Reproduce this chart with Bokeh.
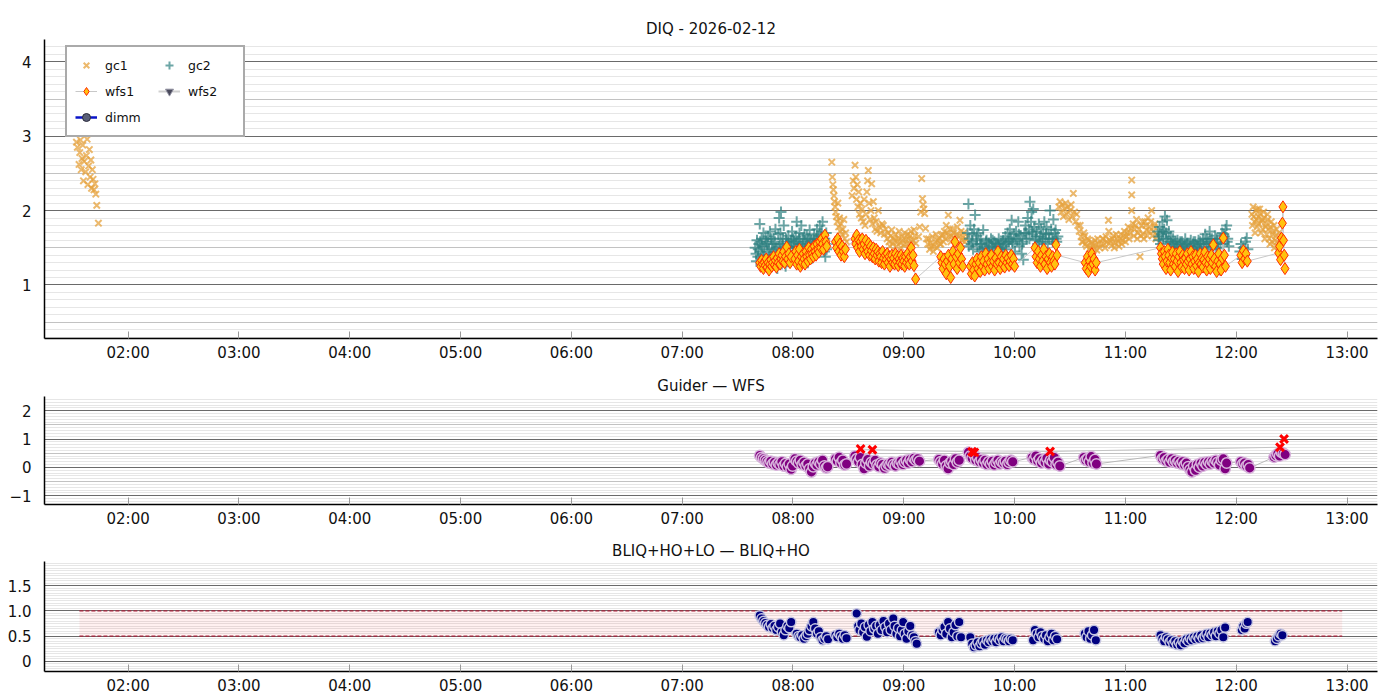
from datetime import datetime
from bokeh.plotting import figure
from bokeh.layouts import column
from bokeh.models import (Range1d, DatetimeTickFormatter, FixedTicker,
                          SingleIntervalTicker, Grid, Legend, LegendItem)
from bokeh.embed import file_html
from bokeh.resources import INLINE

TITLE_TOP = "DIQ - 2026-02-12"
TITLE_MID = "Guider \u2014 WFS"
TITLE_BOT = "BLIQ+HO+LO \u2014 BLIQ+HO"
DAY = datetime(2026, 2, 12)

# ---------------- data (minutes after 00:00, values) ----------------
gc1_t = [92.0, 92.5, 93.0, 93.4, 93.8, 94.2, 94.6, 95.0, 95.4, 95.8, 96.2, 96.6, 97.0, 97.4, 97.8, 98.2, 98.6, 99.0, 99.4, 99.8, 100.2, 100.6, 101.0, 101.5, 102.0, 102.5, 103.0, 103.9,
         501.0, 501.3, 501.6, 501.9, 502.2, 502.5, 502.8, 503.1, 503.5, 503.9, 504.3, 504.7, 505.2, 505.6, 506.0, 506.5, 507.0, 507.5, 508.0, 508.5, 509.0,
         512.0, 512.6, 513.0, 513.6, 514.0, 514.4, 514.8, 515.2, 515.6, 516.0, 516.5, 517.0, 517.5, 518.0, 518.5, 519.0, 519.5, 520.0, 520.4, 520.8, 521.2, 521.7, 522.2, 522.6, 523.0, 523.5, 524.0, 524.5, 525.0, 525.5, 526.2, 526.8, 527.5, 528.2, 528.9, 529.5, 530.2,
         531.0, 532.0, 533.0, 534.0, 535.0, 536.0, 537.0, 538.0, 539.0, 540.0, 541.0, 542.0, 543.0, 544.0, 545.0, 546.0,
         531.5, 532.5, 533.5, 534.5, 535.5, 536.5, 537.5, 538.5, 539.5, 540.5, 541.5, 542.5, 543.5, 544.5, 545.5, 546.5,
         548.0, 548.6, 549.2, 549.7, 550.1, 550.5, 550.9, 551.3, 551.8, 552.3,
         553.0, 554.0, 555.0, 556.0, 557.0, 558.0, 559.0, 560.0, 561.0, 562.0, 563.0, 564.1, 565.0, 566.0, 567.0, 568.0, 569.0, 570.4, 571.0, 572.0, 573.0,
         553.5, 554.5, 555.5, 556.5, 557.5, 558.5, 559.5, 560.5, 561.5, 562.5, 563.5, 564.5, 565.5, 566.5, 567.5, 568.5, 569.5, 570.0, 571.5, 572.5, 573.5,
         624.0, 624.6, 625.2, 625.8, 626.4, 627.0, 627.6, 628.2, 628.8, 629.4, 630.0, 630.6, 631.2, 631.8, 632.4, 633.0, 633.6, 634.2,
         635.0, 636.0, 637.0, 638.0, 639.0, 640.0, 641.0, 642.0, 643.0, 644.0, 645.0, 646.0,
         635.5, 636.5, 637.5, 638.5, 639.5, 640.5, 641.5, 642.5, 643.5, 644.5, 645.5,
         647.0, 648.0, 649.0, 650.0, 650.8, 651.5, 652.5, 653.5, 654.5, 655.5, 656.5, 657.5, 658.5, 659.5, 660.5, 661.5, 662.5, 663.4, 663.4, 663.4, 664.2, 665.0, 666.0, 666.8, 667.9, 668.8, 669.6, 670.5, 671.4, 672.3, 673.2, 674.2, 675.0, 676.0, 677.0,
         647.5, 648.5, 649.5, 651.0, 652.0, 653.0, 654.0, 655.0, 656.0, 657.0, 658.0, 659.0, 660.0, 661.0, 662.0, 663.0, 664.6, 665.5, 666.4, 667.4, 668.3, 669.2, 670.0, 671.0, 671.8, 672.8, 673.7, 674.6, 675.5, 676.5,
         728.5, 729.2, 729.9, 730.6, 731.3, 732.0, 732.7, 733.4, 734.1, 734.8, 735.5, 736.2, 736.9, 737.6, 738.3, 739.0, 739.7, 740.4, 741.1, 741.8, 742.5, 743.2, 744.0,
         728.8, 729.5, 730.2, 730.9, 731.6, 732.3, 733.0, 733.7, 734.4, 735.1, 735.8, 736.5, 737.2, 737.9, 738.6, 739.3, 740.0, 740.7, 741.4, 742.1]
gc1_v = [2.92, 2.85, 3.05, 2.62, 2.78, 2.95, 2.55, 2.70, 2.88, 2.40, 2.66, 3.10, 2.52, 2.74, 2.96, 2.35, 2.60, 2.82, 2.45, 2.68, 2.30, 2.55, 2.42, 2.28, 2.36, 2.22, 2.07, 1.83,
         2.65, 2.45, 2.35, 2.28, 2.20, 2.12, 2.05, 1.98, 1.92, 1.85, 2.10, 1.78, 1.90, 1.72, 1.82, 1.68, 1.75, 1.88, 1.62, 1.70, 1.58,
         2.20, 2.40, 2.30, 2.61, 2.45, 2.15, 2.35, 2.05, 2.25, 1.95, 2.10, 1.90, 2.02, 1.85, 2.15, 1.80, 1.95, 2.25, 2.40, 2.54, 2.10, 1.88, 2.00, 2.36, 1.82, 2.12, 1.90, 1.75, 1.85, 1.72, 2.00, 1.78, 1.70, 1.82, 1.80, 1.68, 1.75,
         1.62, 1.58, 1.66, 1.55, 1.60, 1.52, 1.63, 1.57, 1.65, 1.54, 1.61, 1.68, 1.56, 1.72, 1.60, 1.66,
         1.70, 1.52, 1.74, 1.62, 1.68, 1.58, 1.72, 1.50, 1.60, 1.70, 1.55, 1.62, 1.66, 1.58, 1.74, 1.56,
         1.65, 1.78, 1.98, 2.43, 2.16, 2.08, 2.02, 1.96, 1.76, 1.62,
         1.55, 1.48, 1.52, 1.45, 1.58, 1.50, 1.62, 1.55, 1.68, 1.72, 1.80, 1.94, 1.75, 1.66, 1.70, 1.60, 1.78, 1.87, 1.72, 1.64, 1.58,
         1.62, 1.56, 1.65, 1.52, 1.68, 1.60, 1.55, 1.66, 1.58, 1.62, 1.70, 1.65, 1.58, 1.75, 1.62, 1.68, 1.55, 1.66, 1.60, 1.70, 1.62,
         2.05, 2.12, 1.98, 2.08, 1.92, 2.02, 2.10, 1.95, 2.05, 1.88, 2.00, 2.08, 1.92, 2.23, 1.98, 1.85, 1.95, 1.80,
         1.72, 1.65, 1.58, 1.66, 1.52, 1.60, 1.50, 1.56, 1.48, 1.54, 1.62, 1.50,
         1.80, 1.58, 1.70, 1.55, 1.62, 1.48, 1.58, 1.52, 1.60, 1.47, 1.55,
         1.55, 1.62, 1.50, 1.58, 1.87, 1.60, 1.53, 1.66, 1.56, 1.62, 1.52, 1.68, 1.60, 1.72, 1.65, 1.78, 1.70, 2.00, 2.21, 2.41, 1.82, 1.75, 1.88, 1.70, 1.38, 1.80, 1.68, 1.85, 1.74, 1.90, 1.78, 2.00, 1.72, 1.82, 1.68,
         1.62, 1.55, 1.65, 1.72, 1.58, 1.62, 1.50, 1.68, 1.58, 1.62, 1.55, 1.66, 1.58, 1.70, 1.62, 1.76, 1.66, 1.80, 1.62, 1.75, 1.66, 1.85, 1.62, 1.80, 1.66, 1.72, 1.85, 1.66, 1.78, 1.62,
         1.95, 2.05, 1.85, 2.00, 1.78, 1.92, 2.02, 1.70, 1.88, 1.98, 1.62, 1.82, 1.95, 1.75, 1.55, 1.85, 1.68, 1.80, 1.60, 1.75, 1.52, 1.70, 1.62,
         1.80, 1.92, 1.70, 1.88, 2.02, 1.82, 1.96, 1.85, 1.75, 1.90, 1.78, 1.68, 1.88, 1.62, 1.78, 1.58, 1.72, 1.50, 1.66, 1.58]

gc2_t = [459.5, 460.0, 460.5, 461.0, 461.5, 462.0, 462.5, 463.0, 463.5, 464.0, 464.5, 465.0, 465.5, 466.0, 466.5, 467.0, 467.5, 468.0, 468.5, 469.0, 469.5, 470.0, 470.5, 471.0, 471.5, 472.0, 472.5, 473.0, 473.5, 474.0, 474.5, 475.0, 475.5, 476.0, 476.5, 477.0, 477.5, 478.0, 478.5, 479.0, 479.5, 480.0, 480.5, 481.0, 481.5, 482.0, 482.5, 483.0, 483.5, 484.0, 484.5, 485.0, 485.5, 486.0, 486.5, 487.0, 487.5, 488.0, 488.5, 489.0, 489.5, 490.0, 490.5, 491.0, 491.5, 492.0, 492.5, 493.0, 493.5, 494.0, 494.5, 495.0, 495.5, 496.0, 496.5, 497.0, 497.5, 498.0, 498.5,
         460.2, 461.2, 462.2, 463.2, 464.2, 465.2, 466.2, 467.2, 468.2, 469.2, 470.2, 471.2, 472.2, 473.2, 474.2, 475.2, 476.2, 477.2, 478.2, 479.2, 480.2, 481.2, 482.2, 483.2, 484.2, 485.2, 486.2, 487.2, 488.2, 489.2, 490.2, 491.2, 492.2, 493.2, 494.2, 495.2, 496.2, 497.2, 498.2,
         574.5, 575.0, 575.5, 576.0, 576.5, 577.0, 577.5, 578.0, 578.6, 579.2, 579.8, 580.4, 581.0, 581.6, 582.2, 583.0, 583.6, 584.2, 584.8, 585.4, 586.0, 586.6, 587.2, 587.8, 588.4, 589.0, 589.6, 590.2, 590.8, 591.4, 592.0, 592.6, 593.2, 593.8, 594.4, 595.0, 595.6, 596.2, 596.8, 597.4, 598.0, 598.4, 599.0, 599.6, 600.2, 600.8, 601.4, 602.0, 602.6, 603.2, 603.8, 604.4, 604.7, 605.3, 605.9, 606.5, 607.1, 607.7, 608.3, 608.9, 609.2, 609.8, 610.1, 610.7, 611.3, 611.9, 612.5, 613.1, 613.7, 614.3, 614.9, 615.5, 616.1, 616.7, 617.3, 617.9, 618.5, 619.2, 619.8, 620.4, 621.0, 621.6, 622.2, 622.8, 623.4,
         575.2, 577.2, 579.5, 581.3, 582.6, 584.5, 586.3, 588.1, 589.9, 591.7, 593.5, 595.3, 597.1, 598.7, 600.5, 602.3, 604.1, 606.2, 608.0, 609.5, 611.6, 613.4, 615.2, 617.0, 618.8, 620.7, 622.5,
         677.5, 678.0, 678.5, 679.0, 679.5, 680.0, 680.5, 681.0, 681.4, 682.0, 682.5, 683.0, 683.5, 684.0, 684.6, 685.2, 685.8, 686.4, 687.0, 687.6, 688.2, 688.8, 689.4, 690.0, 690.6, 691.2, 691.8, 692.4, 693.0, 693.6, 694.2, 694.8, 695.4, 696.0, 696.6, 697.2, 697.8, 698.4, 699.0, 699.6, 700.2, 700.8, 701.4, 702.0, 702.6, 703.2, 703.8, 704.4, 705.0, 705.6, 706.2, 706.8, 707.4, 708.0, 708.6, 709.2, 709.8, 710.4, 711.2, 711.8, 712.4, 713.0, 713.6, 714.2, 714.8, 715.4, 716.0,
         678.2, 680.2, 682.2, 684.3, 686.1, 687.9, 689.7, 691.5, 693.3, 695.1, 696.9, 698.7, 700.5, 702.3, 704.1, 705.9, 707.7, 709.5, 711.5, 713.3, 715.1,
         722.0, 722.6, 723.2, 723.8, 724.4, 725.0, 725.7, 726.3]
gc2_v = [1.50, 1.42, 1.60, 1.38, 1.55, 1.82, 1.45, 1.62, 1.40, 1.70, 1.52, 1.35, 1.58, 1.44, 1.65, 1.48, 1.72, 1.40, 1.55, 1.30, 1.62, 1.45, 1.75, 1.50, 1.22, 1.68, 1.90, 1.55, 1.98, 1.42, 1.62, 1.80, 1.48, 1.25, 1.58, 1.40, 1.66, 1.52, 1.35, 1.60, 1.72, 1.45, 1.58, 1.38, 1.65, 1.85, 1.50, 1.42, 1.70, 1.55, 1.80, 1.48, 1.62, 1.35, 1.58, 1.45, 1.66, 1.30, 1.52, 1.74, 1.44, 1.60, 1.38, 1.55, 1.68, 1.47, 1.62, 1.75, 1.52, 1.66, 1.80, 1.58, 1.72, 1.85, 1.62, 1.45, 1.38, 1.70, 1.55,
         1.32, 1.48, 1.58, 1.52, 1.38, 1.62, 1.55, 1.35, 1.62, 1.48, 1.58, 1.40, 1.52, 1.70, 1.55, 1.35, 1.62, 1.52, 1.45, 1.55, 1.62, 1.50, 1.58, 1.62, 1.42, 1.55, 1.68, 1.52, 1.62, 1.58, 1.50, 1.62, 1.55, 1.60, 1.48, 1.65, 1.55, 1.62, 1.48,
         1.70, 2.09, 1.62, 1.80, 1.55, 1.68, 1.48, 1.75, 1.94, 1.60, 1.52, 1.70, 1.45, 1.62, 1.55, 1.74, 1.50, 1.42, 1.60, 1.48, 1.56, 1.40, 1.62, 1.52, 1.45, 1.58, 1.50, 1.42, 1.55, 1.62, 1.48, 1.56, 1.44, 1.60, 1.52, 1.65, 1.48, 1.70, 1.58, 1.75, 1.62, 1.87, 1.55, 1.68, 1.45, 1.72, 1.60, 1.85, 1.52, 1.66, 1.42, 1.58, 1.34, 1.70, 1.80, 1.62, 1.90, 1.75, 2.12, 1.85, 1.98, 1.68, 2.02, 1.78, 1.60, 1.72, 1.55, 1.82, 1.65, 1.75, 1.58, 1.70, 1.85, 1.62, 1.78, 1.55, 1.68, 2.00, 1.75, 1.62, 1.88, 1.70, 1.74, 1.58, 1.65,
         1.52, 1.58, 1.66, 1.55, 1.48, 1.58, 1.52, 1.60, 1.55, 1.50, 1.58, 1.55, 1.62, 1.58, 1.62, 1.68, 1.55, 1.70, 1.62, 1.72, 1.65, 1.58, 1.62, 1.68, 1.62, 1.58, 1.62,
         1.72, 1.60, 1.78, 1.55, 1.68, 1.85, 1.62, 1.75, 1.92, 1.70, 1.87, 1.58, 1.72, 1.50, 1.65, 1.55, 1.62, 1.48, 1.58, 1.52, 1.60, 1.45, 1.55, 1.50, 1.58, 1.46, 1.54, 1.62, 1.48, 1.56, 1.42, 1.52, 1.60, 1.45, 1.55, 1.50, 1.58, 1.44, 1.52, 1.60, 1.48, 1.55, 1.42, 1.62, 1.50, 1.68, 1.55, 1.45, 1.58, 1.72, 1.52, 1.62, 1.48, 1.56, 1.66, 1.42, 1.58, 1.50, 1.20, 1.62, 1.70, 1.55, 1.65, 1.75, 1.80, 1.62, 1.52,
         1.65, 1.72, 1.62, 1.58, 1.55, 1.50, 1.58, 1.52, 1.55, 1.48, 1.58, 1.52, 1.58, 1.55, 1.62, 1.58, 1.52, 1.62, 1.55, 1.68, 1.58,
         1.45, 1.55, 1.35, 1.50, 1.40, 1.58, 1.63, 1.48]

wfs1_t = [462.0, 462.5, 463.0, 463.5, 464.0, 464.5, 465.0, 465.5, 466.0, 466.5, 467.0, 467.5, 468.0, 468.5, 469.0, 469.5, 470.0, 470.5, 471.0, 471.5, 472.0, 472.5, 473.0, 473.5, 474.0, 474.5, 475.0, 475.5, 476.0, 476.6, 477.2, 477.8, 478.4, 479.0,
          481.0, 481.5, 482.0, 482.5, 483.0, 483.5, 484.0, 484.5, 485.0, 485.5, 486.0, 486.5, 487.0, 487.5, 488.0, 488.5, 489.0, 489.5, 490.0, 490.5, 491.0, 491.5, 492.0, 492.5, 493.0, 493.5, 494.0, 494.5, 495.0, 495.5, 496.0, 496.5, 497.3, 497.8, 498.3,
          503.0, 503.6, 504.2, 504.8, 505.4, 506.0, 506.6, 507.2, 507.8, 508.4,
          513.5, 514.0, 514.5, 515.0, 515.5, 516.0, 516.5, 517.0, 517.5, 518.0, 518.5, 519.0, 519.5, 520.0, 520.5, 521.0, 521.5, 522.0, 522.5, 523.0, 523.5, 524.0, 524.5, 525.0, 525.5, 526.0, 526.5, 527.0, 527.5, 528.0, 528.5, 529.0, 529.5, 530.0, 530.5, 531.0, 531.5, 532.0, 532.5, 533.0, 533.5, 534.0, 534.5, 535.0, 535.5, 536.0, 536.5, 537.0, 537.5, 538.0, 538.5, 539.0, 539.5, 540.0, 540.5, 541.0, 541.5, 542.0, 542.5, 543.0, 543.5, 544.0, 544.5, 545.0, 545.5, 546.4,
          560.0, 560.6, 561.2, 561.8, 562.4, 563.0, 563.6, 564.2, 564.8, 565.4, 566.0, 566.6, 567.2, 567.7, 568.3, 568.9, 569.5, 570.1, 570.7, 571.3, 571.9,
          576.0, 576.6, 577.2, 577.8, 578.4, 579.0, 579.6, 580.2, 580.8, 581.4, 582.0, 582.6, 583.2, 583.8, 584.4, 585.0, 585.6, 586.2, 586.8, 587.4, 588.0, 588.6, 589.2, 589.8, 590.4, 591.0, 591.6, 592.2, 592.8, 593.4, 594.0, 594.6, 595.2, 595.8, 596.4, 597.0, 597.6, 598.2, 598.8, 599.4, 600.0,
          611.0, 611.6, 612.2, 612.8, 613.4, 614.0, 614.6, 615.2, 615.8, 616.4, 617.0, 617.6, 618.2, 618.8, 619.4, 620.0, 620.6, 621.2, 621.8, 622.4, 623.0,
          638.2, 638.8, 639.4, 640.0, 640.6, 641.2, 641.8, 642.4, 643.0, 643.6, 644.2,
          679.0, 679.5, 680.0, 680.5, 681.0, 681.5, 682.0, 682.5, 683.0, 683.5, 684.0, 684.5, 685.0, 685.5, 686.0, 686.5, 687.0, 687.5, 688.0, 688.5, 689.0, 689.5, 690.0, 690.5, 691.0, 691.5, 692.0, 692.5, 693.0, 693.5, 694.0, 694.5, 695.0, 695.5, 696.0, 696.5, 697.0, 697.5, 698.0, 698.5, 699.0, 699.5, 700.0, 700.5, 701.0, 701.5, 702.0, 702.5, 703.0, 703.5, 704.0, 704.5, 705.0, 705.5, 706.0, 706.5, 707.0, 707.6, 708.2, 708.8, 709.4, 710.0, 710.6, 711.2, 711.8, 712.4, 713.0, 713.6, 714.2,
          722.5, 723.2, 723.9, 724.6, 725.3, 726.0,
          743.0, 743.5, 744.0, 744.5, 745.0, 745.3, 745.6, 746.0, 746.4]
wfs1_v = [1.30, 1.25, 1.33, 1.28, 1.22, 1.30, 1.26, 1.35, 1.24, 1.30, 1.20, 1.28, 1.34, 1.25, 1.30, 1.38, 1.27, 1.33, 1.24, 1.36, 1.30, 1.42, 1.28, 1.35, 1.40, 1.32, 1.45, 1.30, 1.38, 1.51, 1.35, 1.42, 1.30, 1.38,
          1.35, 1.45, 1.28, 1.40, 1.32, 1.48, 1.25, 1.38, 1.30, 1.42, 1.35, 1.28, 1.45, 1.38, 1.32, 1.50, 1.40, 1.35, 1.48, 1.42, 1.38, 1.52, 1.45, 1.40, 1.55, 1.48, 1.44, 1.58, 1.50, 1.62, 1.55, 1.48, 1.67, 1.58, 1.52,
          1.58, 1.50, 1.62, 1.45, 1.55, 1.40, 1.52, 1.45, 1.38, 1.48,
          1.62, 1.55, 1.67, 1.50, 1.60, 1.45, 1.58, 1.52, 1.62, 1.48, 1.55, 1.42, 1.60, 1.50, 1.45, 1.56, 1.40, 1.52, 1.46, 1.38, 1.50, 1.42, 1.35, 1.48, 1.40, 1.45, 1.32, 1.42, 1.38, 1.30, 1.45, 1.36, 1.28, 1.40, 1.34, 1.42, 1.30, 1.38, 1.25, 1.35, 1.40, 1.30, 1.36, 1.28, 1.42, 1.32, 1.38, 1.26, 1.35, 1.30, 1.40, 1.28, 1.36, 1.32, 1.25, 1.38, 1.30, 1.42, 1.34, 1.28, 1.38, 1.50, 1.32, 1.40, 1.26, 1.08,
          1.38, 1.30, 1.22, 1.35, 1.28, 1.15, 1.32, 1.40, 1.25, 1.10, 1.35, 1.45, 1.28, 1.58, 1.38, 1.22, 1.42, 1.30, 1.50, 1.35, 1.25,
          1.25, 1.15, 1.30, 1.20, 1.12, 1.28, 1.35, 1.22, 1.30, 1.18, 1.38, 1.25, 1.32, 1.20, 1.42, 1.28, 1.35, 1.22, 1.30, 1.40, 1.25, 1.32, 1.20, 1.36, 1.28, 1.45, 1.30, 1.22, 1.38, 1.28, 1.35, 1.24, 1.40, 1.30, 1.36, 1.26, 1.32, 1.40, 1.28, 1.35, 1.25,
          1.50, 1.38, 1.30, 1.45, 1.35, 1.25, 1.40, 1.32, 1.48, 1.28, 1.38, 1.22, 1.35, 1.42, 1.30, 1.25, 1.38, 1.32, 1.28, 1.54, 1.40,
          1.30, 1.22, 1.38, 1.18, 1.32, 1.25, 1.42, 1.28, 1.35, 1.20, 1.30,
          1.50, 1.42, 1.35, 1.28, 1.45, 1.38, 1.22, 1.32, 1.48, 1.40, 1.30, 1.20, 1.36, 1.44, 1.28, 1.35, 1.25, 1.42, 1.32, 1.18, 1.38, 1.45, 1.30, 1.24, 1.40, 1.34, 1.22, 1.36, 1.28, 1.42, 1.32, 1.20, 1.35, 1.45, 1.28, 1.38, 1.22, 1.32, 1.40, 1.26, 1.35, 1.18, 1.30, 1.42, 1.28, 1.36, 1.24, 1.34, 1.44, 1.30, 1.20, 1.38, 1.28, 1.35, 1.22, 1.40, 1.30, 1.54, 1.35, 1.25, 1.18, 1.32, 1.42, 1.28, 1.20, 1.36, 1.63, 1.40, 1.25,
          1.40, 1.30, 1.46, 1.35, 1.42, 1.32,
          1.43, 1.52, 1.34, 1.63, 1.83, 2.05, 1.60, 1.40, 1.22]

# wfs2 and dimm have no points on this night (legend entries only)
wfs2_t = []
wfs2_v = []
dimm_t = []
dimm_v = []

gw_t = [462.0, 463.0, 464.0, 465.0, 466.0, 467.0, 468.0, 469.0, 470.0, 471.0, 472.0, 473.0, 474.0, 475.0, 476.0, 477.0, 478.0, 479.0, 479.8,
        481.0, 482.0, 483.0, 484.0, 485.0, 486.0, 487.0, 488.0, 489.0, 490.0, 491.0, 492.0, 493.0, 494.0, 495.0, 496.0, 497.0, 498.0, 498.8,
        503.0, 504.0, 505.0, 506.0, 507.0, 508.0, 509.0,
        513.5, 514.5, 515.5, 516.5, 517.5, 518.5, 519.5, 520.5, 521.5, 522.5, 523.5, 524.5, 525.5, 526.5, 527.5, 528.5, 529.5, 530.5, 531.5, 532.5, 533.5, 534.5, 535.5, 536.5, 537.5, 538.5, 539.5, 540.5, 541.5, 542.5, 543.5, 544.5, 545.5, 546.5, 547.5, 548.5,
        559.0, 560.0, 561.0, 562.0, 563.0, 564.0, 565.0, 566.0, 567.0, 568.0, 569.0, 570.0,
        575.0, 576.0, 577.0, 578.0, 579.0, 580.0, 581.0, 582.0, 583.0, 584.0, 585.0, 586.0, 587.0, 588.0, 589.0, 590.0, 591.0, 592.0, 593.0, 594.0, 595.0, 596.0, 597.0, 598.0, 599.0,
        609.5, 610.5, 611.5, 612.5, 613.5, 614.5, 615.5, 616.5, 617.5, 618.5, 619.5, 620.5, 621.5, 622.5, 623.5, 624.5,
        637.5, 638.5, 639.5, 640.5, 641.5, 642.5, 643.5, 644.3,
        679.0, 680.0, 681.0, 682.0, 683.0, 684.0, 685.0, 686.0, 687.0, 688.0, 689.0, 690.0, 691.0, 692.0, 693.0, 694.0, 695.0, 696.0, 697.0, 698.0, 699.0, 700.0, 701.0, 702.0, 703.0, 704.0, 705.0, 706.0, 707.0, 708.0, 709.0, 710.0, 711.0, 712.0, 713.0, 714.0, 714.8,
        722.5, 723.5, 724.5, 725.5, 726.5, 727.3,
        740.5, 741.5, 742.5, 743.5, 744.5, 745.5, 746.5]
gw_v = [0.42, 0.35, 0.30, 0.25, 0.20, 0.15, 0.22, 0.12, 0.18, 0.08, 0.15, 0.10, 0.20, 0.05, 0.14, 0.02, 0.12, -0.07, 0.05,
        0.30, 0.22, 0.15, 0.25, 0.10, 0.18, 0.05, 0.12, -0.05, -0.16, 0.02, 0.15, 0.08, 0.20, 0.12, 0.25, 0.05, -0.02, 0.02,
        0.30, 0.22, 0.36, 0.15, 0.25, 0.08, 0.12,
        0.40, 0.30, 0.20, 0.35, 0.10, -0.05, 0.15, 0.28, 0.05, 0.18, 0.12, 0.25, 0.08, 0.02, 0.15, 0.10, -0.03, 0.05, 0.12, 0.08, 0.18, 0.10, 0.05, 0.15, 0.12, 0.22, 0.10, 0.18, 0.25, 0.15, 0.28, 0.20, 0.32, 0.25, 0.30, 0.22,
        0.28, 0.20, 0.12, 0.25, 0.05, -0.05, 0.15, 0.22, 0.10, 0.30, 0.18, 0.25,
        0.53, 0.40, 0.32, 0.45, 0.25, 0.35, 0.20, 0.28, 0.15, 0.25, 0.10, 0.20, 0.12, 0.22, 0.08, 0.18, 0.25, 0.12, 0.20, 0.15, 0.22, 0.10, 0.18, 0.25, 0.20,
        0.35, 0.28, 0.40, 0.22, 0.30, 0.15, 0.25, 0.18, 0.32, 0.12, 0.25, 0.20, 0.35, 0.10, 0.18, 0.05,
        0.35, 0.25, 0.30, 0.20, 0.38, 0.15, 0.28, 0.12,
        0.42, 0.30, 0.35, 0.22, 0.28, 0.18, 0.30, 0.20, 0.25, 0.15, 0.22, 0.12, 0.20, 0.08, 0.15, 0.02, -0.08, -0.16, 0.05, -0.10, 0.10, 0.00, 0.15, 0.05, 0.18, 0.10, 0.20, 0.12, 0.22, 0.15, 0.25, 0.18, 0.08, 0.25, 0.30, -0.05, 0.15,
        0.20, 0.12, 0.15, 0.05, 0.10, -0.02,
        0.36, 0.42, 0.48, 0.40, 0.53, 0.50, 0.45]

gwx_t = [516.6, 523.0, 577.0, 578.2, 619.2, 743.7, 745.9]
gwx_v = [0.65, 0.62, 0.55, 0.53, 0.56, 0.71, 1.00]

bl_t = [462.0, 463.0, 464.0, 465.0, 466.0, 467.0, 468.0, 469.0, 470.0, 471.0, 472.0, 473.0, 474.0, 475.0, 476.0, 477.0, 478.0, 479.0,
        482.0, 483.0, 484.0, 485.0, 486.0, 487.0, 488.0, 489.0, 490.0, 491.0, 492.0, 493.0, 494.0, 495.0, 496.0, 497.0, 498.0, 499.0,
        503.0, 504.0, 505.0, 506.0, 507.0, 508.0, 509.0,
        514.5, 515.3, 516.0, 517.0, 518.0, 519.0, 520.0, 521.0, 522.0, 523.0, 524.0, 525.0, 526.0, 527.0, 528.0, 529.0, 530.0, 531.0, 532.0, 533.0, 534.3, 535.0, 536.0, 537.0, 538.0, 539.0, 539.7, 540.5, 541.5, 542.5, 543.5, 544.5, 545.5, 546.3, 547.0,
        559.0, 560.0, 561.0, 562.0, 563.0, 564.0, 565.0, 566.0, 567.0, 568.0, 569.0, 570.0, 571.0,
        576.0, 577.0, 578.0, 579.0, 580.0, 581.0, 582.0, 583.0, 584.0, 585.0, 586.0, 587.0, 588.0, 589.0, 590.0, 591.0, 592.0, 593.0, 594.0, 595.0, 596.0, 597.0, 598.0, 599.0,
        610.0, 611.0, 612.0, 613.0, 614.0, 615.0, 616.0, 617.0, 618.0, 619.0, 620.0, 621.0, 622.0, 623.0,
        638.0, 639.0, 640.0, 641.0, 642.0, 643.0, 644.0,
        679.0, 680.0, 681.0, 682.0, 683.0, 684.0, 685.0, 686.0, 687.0, 688.0, 689.0, 690.0, 691.0, 692.0, 693.0, 694.0, 695.0, 696.0, 697.0, 698.0, 699.0, 700.0, 701.0, 702.0, 703.0, 704.0, 705.0, 706.0, 707.0, 708.0, 709.0, 710.0, 711.0, 712.0, 713.0, 714.0,
        723.0, 723.8, 724.6, 725.4, 726.2,
        741.0, 742.0, 743.0, 744.0, 745.0]
bl_v = [0.91, 0.85, 0.80, 0.76, 0.72, 0.68, 0.74, 0.66, 0.70, 0.62, 0.68, 0.75, 0.58, 0.52, 0.62, 0.70, 0.66, 0.78,
        0.55, 0.50, 0.48, 0.52, 0.45, 0.50, 0.55, 0.62, 0.70, 0.78, 0.65, 0.55, 0.60, 0.48, 0.42, 0.45, 0.50, 0.44,
        0.52, 0.48, 0.55, 0.50, 0.45, 0.52, 0.46,
        0.95, 0.70, 0.62, 0.75, 0.58, 0.68, 0.49, 0.72, 0.60, 0.78, 0.65, 0.70, 0.55, 0.72, 0.62, 0.80, 0.68, 0.58, 0.75, 0.62, 0.85, 0.70, 0.55, 0.66, 0.50, 0.62, 0.78, 0.55, 0.45, 0.60, 0.70, 0.52, 0.48, 0.40, 0.35,
        0.58, 0.52, 0.62, 0.68, 0.55, 0.78, 0.65, 0.48, 0.58, 0.72, 0.50, 0.78, 0.48,
        0.48, 0.35, 0.28, 0.32, 0.38, 0.30, 0.36, 0.40, 0.33, 0.42, 0.38, 0.44, 0.40, 0.45, 0.38, 0.46, 0.42, 0.48, 0.40, 0.46, 0.44, 0.40, 0.45, 0.42,
        0.42, 0.62, 0.55, 0.48, 0.58, 0.50, 0.45, 0.52, 0.40, 0.48, 0.55, 0.42, 0.50, 0.44,
        0.55, 0.48, 0.60, 0.45, 0.52, 0.62, 0.42,
        0.52, 0.45, 0.40, 0.48, 0.44, 0.38, 0.42, 0.35, 0.40, 0.33, 0.38, 0.32, 0.40, 0.36, 0.44, 0.40, 0.46, 0.42, 0.48, 0.44, 0.50, 0.45, 0.52, 0.46, 0.50, 0.55, 0.48, 0.56, 0.52, 0.58, 0.50, 0.60, 0.55, 0.62, 0.48, 0.67,
        0.62, 0.70, 0.65, 0.75, 0.78,
        0.40, 0.45, 0.50, 0.55, 0.52]

band_t = [93.6, 777.4]
band_lo = [0.5, 0.5]
band_hi = [1.0, 1.0]

x_limits = [74.7, 796.5]
hour_ticks = [2, 3, 4, 5, 6, 7, 8, 9, 10, 11, 12, 13]
top_ylim = [0.28, 4.30]
mid_ylim = [-1.31, 2.50]
bot_ylim = [-0.20, 1.98]

# ---------------- helpers ----------------
BASE_MS = (DAY - datetime(1970, 1, 1)).total_seconds() * 1000.0
NAN = float("nan")


def ms(mins):
    return [BASE_MS + m * 60000.0 for m in mins]


FONT = "DejaVu Sans"
xr = Range1d(*ms(x_limits))
fmt = DatetimeTickFormatter(hours="%H:%M", hourmin="%H:%M", minutes="%H:%M", days="%H:%M")
tick_ms = ms([h * 60 for h in hour_ticks])


def make_fig(title, height, ylim, top):
    p = figure(width=1384, height=height, x_axis_type="datetime", x_range=xr,
               y_range=Range1d(*ylim), output_backend="svg", toolbar_location=None,
               title=title, min_border_left=44, min_border_right=7,
               min_border_top=top, min_border_bottom=25)
    p.outline_line_color = None
    p.background_fill_color = "white"
    p.title.align = "center"
    p.title.text_font = FONT
    p.title.text_font_size = "15px"
    p.title.text_font_style = "normal"
    p.title.text_color = "#111111"
    p.title.standoff = 4
    p.xgrid.visible = False
    p.xaxis.ticker = FixedTicker(ticks=tick_ms)
    p.xaxis.formatter = fmt
    for ax in (p.xaxis[0], p.yaxis[0]):
        ax.axis_line_color = "black"
        ax.axis_line_width = 1.5
        ax.major_label_text_font = FONT
        ax.major_label_text_font_size = "15px"
        ax.major_label_text_color = "#111111"
        ax.minor_tick_line_color = None
    p.xaxis.major_tick_in = 7
    p.xaxis.major_tick_out = 0
    p.xaxis.major_tick_line_color = "#999999"
    p.xaxis.major_label_standoff = 5
    p.yaxis.major_tick_line_color = None
    p.yaxis.major_label_standoff = 7
    return p


def style_y(p, interval, nminor, half):
    tk = SingleIntervalTicker(interval=interval, num_minor_ticks=nminor)
    p.yaxis.ticker = tk
    p.ygrid.ticker = tk
    p.ygrid.grid_line_color = "#6a6a6a"
    p.ygrid.grid_line_width = 1
    p.ygrid.minor_grid_line_color = "#e6e6e6"
    p.ygrid.minor_grid_line_width = 1
    if half:
        p.add_layout(Grid(dimension=1, ticker=FixedTicker(ticks=half),
                          grid_line_color="#c2c2c2", grid_line_width=1))


# ---------------- top panel ----------------
p1 = make_fig(TITLE_TOP, 365, top_ylim, 39)
p1.min_border_bottom = 27
style_y(p1, 1, 10, [0.5, 1.5, 2.5, 3.5])

r_gc1 = p1.scatter(ms(gc1_t), gc1_v, marker="x", size=9, line_width=2,
                   line_color="#E6A23C", line_alpha=0.75)
r_gc2 = p1.scatter(ms(gc2_t), gc2_v, marker="cross", size=11, line_width=2,
                   line_color="#2E8080", line_alpha=0.7)
r_w1l = p1.line(ms(wfs1_t), wfs1_v, line_color="#c8c8c8", line_width=1)
r_w1 = p1.scatter(ms(wfs1_t), wfs1_v, marker="diamond", size=12, fill_color="#FFC20E",
                  line_color="#FF2A00", line_width=1)
p1.line(ms(wfs2_t), wfs2_v, line_color="#d0d0d0", line_width=2)
p1.scatter(ms(wfs2_t), wfs2_v, marker="inverted_triangle", size=11,
           fill_color="#4a4a5c", line_color="#9090a0")
p1.line(ms(dimm_t), dimm_v, line_color="#0a14c8", line_width=2.5)
p1.scatter(ms(dimm_t), dimm_v, marker="circle", size=10,
           fill_color="#5a6078", line_color="#2a2a3a")
# legend proxies for the series that have no points (a NaN is never drawn)
k_w2l = p1.line([NAN], [NAN], line_color="#d0d0d0", line_width=2)
k_w2 = p1.scatter([NAN], [NAN], marker="inverted_triangle", size=11,
                  fill_color="#4a4a5c", line_color="#9090a0")
k_dl = p1.line([NAN], [NAN], line_color="#0a14c8", line_width=2.5)
k_d = p1.scatter([NAN], [NAN], marker="circle", size=10,
                 fill_color="#5a6078", line_color="#2a2a3a")

legend = Legend(items=[
    LegendItem(label="gc1", renderers=[r_gc1]),
    LegendItem(label="wfs1", renderers=[r_w1l, r_w1]),
    LegendItem(label="dimm", renderers=[k_dl, k_d]),
    LegendItem(label="gc2", renderers=[r_gc2]),
    LegendItem(label="wfs2", renderers=[k_w2l, k_w2]),
], ncols=2, location=(21, 201))
legend.label_text_font = FONT
legend.label_text_font_size = "12.5px"
legend.label_text_color = "#111111"
legend.border_line_color = "#555555"
legend.border_line_width = 2
legend.background_fill_color = "white"
legend.background_fill_alpha = 1.0
legend.glyph_width = 22
legend.glyph_height = 20
legend.label_height = 20
legend.label_width = 47
legend.label_standoff = 8
legend.spacing = 6
legend.padding = 8
legend.margin = 0
p1.add_layout(legend)

# ---------------- middle panel ----------------
p2 = make_fig(TITLE_MID, 165, mid_ylim, 31)
style_y(p2, 1, 10, [-0.5, 0.5, 1.5, 2.5])
p2.line(ms(gw_t), gw_v, line_color="#b8b8b8", line_width=1)
p2.line(ms(gwx_t), gwx_v, line_color="#c4c4c4", line_width=1)
p2.scatter(ms(gw_t), gw_v, marker="circle", size=10.5, fill_color="#800080",
           line_color="#d8b4dc", line_width=1.5)
p2.scatter(ms(gwx_t), gwx_v, marker="x", size=11, line_color="red", line_width=3)

# ---------------- bottom panel ----------------
p3 = make_fig(TITLE_BOT, 167, bot_ylim, 31)
style_y(p3, 0.5, 10, None)
p3.yaxis.major_label_overrides = {0: "0", 1: "1.0"}
p3.varea(x=ms(band_t), y1=band_lo, y2=band_hi, fill_color="#ff0000", fill_alpha=0.06)
p3.line(ms(band_t), band_lo, line_color="#a8203a", line_width=1.3, line_dash="4 2")
p3.line(ms(band_t), band_hi, line_color="#a8203a", line_width=1.3, line_dash="4 2")
p3.scatter(ms(bl_t), bl_v, marker="circle", size=9.5, fill_color="#000080",
           line_color="#c4c4e0", line_width=1.5)

layout = column(p1, p2, p3, spacing=0)
open("out.html", "w").write(file_html(layout, INLINE))
